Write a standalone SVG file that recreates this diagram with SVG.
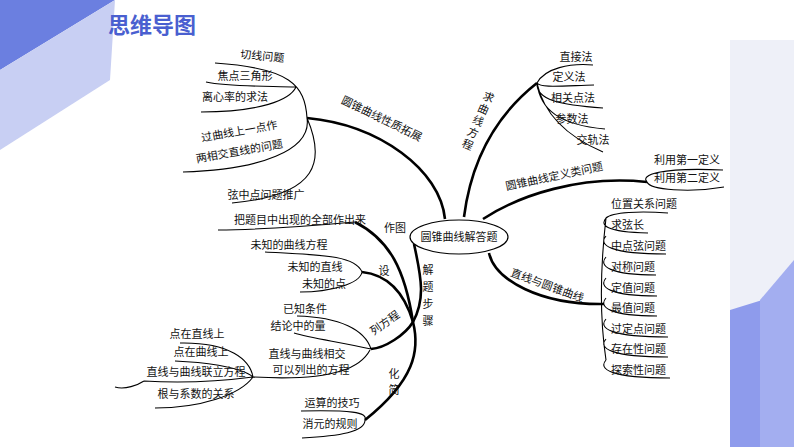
<svg xmlns="http://www.w3.org/2000/svg" width="794" height="447" viewBox="0 0 794 447">
<style>
text{font-family:"Noto Sans CJK SC","Liberation Sans",sans-serif;font-size:11px;fill:#111}
.t{text-anchor:middle}
.b{fill:none;stroke:#000;stroke-width:2.6}
.s{fill:none;stroke:#000;stroke-width:1.1}
</style>
<rect width="794" height="447" fill="#fff"/>
<rect x="730" y="40" width="64" height="407" fill="#eef0f8"/>
<polygon points="0,0 115,0 0,70" fill="#6b7fe0"/>
<polygon points="0,70 115,0 110,80 0,150" fill="#c8cff3"/>
<polygon points="730,310 794,290 794,447 700,447" fill="#8e9bec"/>
<polygon points="760,300 794,260 794,447 760,447" fill="#a3aef0"/>
<rect x="130" y="40" width="600" height="407" fill="#fff"/>
<text x="108" y="33" style="font-size:22px;font-weight:bold;fill:#4a5fd0">思维导图</text>
<g id="connectors">
<path class="b" d="M445,219 C440,170 380,125 307,118"/>
<path class="s" d="M307,118 C305,85 290,68 215,63 M296,87 C270,86 230,87 206,82 M296,87 C290,100 260,112 201,112 M307,118 C312,150 260,170 183,172 M307,118 C325,160 320,195 232,203"/>
<path class="b" d="M464,217 C470,170 490,120 537,83"/>
<path class="s" d="M537,83 C545,68 570,63 593,65 M537,83 C540,88 560,86 594,85 M537,83 C536,100 560,105 603,108 M537,83 C540,110 560,125 605,129 M537,83 C545,120 575,140 603,152"/>
<path class="b" d="M483,219 C520,195 580,175 647,182"/>
<path class="s" d="M647,182 C640,175 660,167 723,170 M647,182 C650,190 690,193 724,187"/>
<path class="b" d="M489,253 C495,280 540,305 604,304"/>
<path class="s" d="M668,213 C640,211 612,212 606,218 C600,225 605,232 648,233
M606,236 C598,245 610,254 666,254
M606,257 C598,266 610,275 656,275
M606,278 C598,287 610,296 657,296
M606,298 C598,307 610,316 657,316
M606,319 C598,328 610,337 668,337
M606,339 C598,348 610,357 668,357
M606,360 C598,369 610,378 670,378
M606,218 C600,270 600,320 606,360"/>
<path class="b" d="M414,244 C422,280 425,300 413,322"/>
<path class="b" d="M413,322 C405,270 390,240 355,222"/>
<path class="s" d="M355,222 C320,225 260,230 218,230"/>
<path class="b" d="M413,322 C405,295 390,275 362,272"/>
<path class="s" d="M362,272 C355,255 320,255 265,252 M362,272 C360,284 330,292 300,292"/>
<path class="b" d="M413,322 C405,335 385,348 371,349"/>
<path class="s" d="M371,349 C365,330 340,317 297,316 M371,349 C340,342 310,338 294,333"/>
<path class="b" d="M413,322 C420,350 415,380 365,420"/>
<path class="s" d="M365,420 C368,412 350,410 301,411 M365,420 C365,432 340,436 302,438"/>
<path class="s" d="M370,350 C362,365 340,382 253,377 M253,377 C250,360 230,342 180,343 M253,377 C240,366 200,362 175,361 M253,377 C230,380 190,384 144,381 M253,377 C240,395 200,408 155,408 M144,381 C138,385 125,390 115,387"/>
</g>
<g id="center"><ellipse cx="459" cy="237" rx="49" ry="17" fill="#fff" stroke="#000" stroke-width="1.2"/><text x="459" y="241" class="t">圆锥曲线解答题</text></g>
<g id="n1">
<text x="380" y="122" class="t" transform="rotate(26 380 122)">圆锥曲线性质拓展</text>
<text x="262" y="60" class="t" transform="rotate(5 262 60)">切线问题</text>
<text x="245" y="80" class="t">焦点三角形</text>
<text x="235" y="101" class="t">离心率的求法</text>
<text x="240" y="135" class="t" transform="rotate(-10 240 135)">过曲线上一点作</text>
<text x="240" y="155" class="t" transform="rotate(-10 240 155)">两相交直线的问题</text>
<text x="266" y="199" class="t">弦中点问题推广</text>
</g>
<g id="n2">
<text x="491" y="92" style="writing-mode:tb;letter-spacing:2px" transform="rotate(24 491 92)">求曲线方程</text>
<text x="576" y="61" class="t">直接法</text>
<text x="569" y="81" class="t">定义法</text>
<text x="573" y="102" class="t">相关点法</text>
<text x="572" y="123" class="t">参数法</text>
<text x="593" y="144" class="t">交轨法</text>
</g>
<g id="n3">
<text x="555" y="180" class="t" transform="rotate(-12 555 180)">圆锥曲线定义类问题</text>
<text x="687" y="164" class="t">利用第一定义</text>
<text x="687" y="182" class="t">利用第二定义</text>
</g>
<g id="n4">
<text x="546" y="289" class="t" transform="rotate(20 546 289)">直线与圆锥曲线</text>
<text x="611" y="208">位置关系问题</text>
<text x="611" y="229">求弦长</text>
<text x="611" y="250">中点弦问题</text>
<text x="611" y="271">对称问题</text>
<text x="611" y="292">定值问题</text>
<text x="611" y="312">最值问题</text>
<text x="611" y="333">过定点问题</text>
<text x="611" y="353">存在性问题</text>
<text x="611" y="374">探索性问题</text>
</g>
<g id="n5">
<text x="428" y="264" style="writing-mode:tb;letter-spacing:6px">解题步骤</text>
<text x="395" y="232" class="t">作图</text>
<text x="300" y="224" class="t">把题目中出现的全部作出来</text>
<text x="384" y="275" class="t">设</text>
<text x="289" y="249" class="t">未知的曲线方程</text>
<text x="315" y="271" class="t">未知的直线</text>
<text x="324" y="288" class="t">未知的点</text>
<text x="387" y="326" class="t" transform="rotate(-35 387 326)">列方程</text>
<text x="305" y="313" class="t">已知条件</text>
<text x="298" y="330" class="t">结论中的量</text>
<text x="307" y="358" class="t">直线与曲线相交</text>
<text x="311" y="374" class="t">可以列出的方程</text>
<text x="197" y="338" class="t">点在直线上</text>
<text x="201" y="356" class="t">点在曲线上</text>
<text x="196" y="376" class="t">直线与曲线联立方程</text>
<text x="196" y="398" class="t">根与系数的关系</text>
<text x="394" y="368" style="writing-mode:tb;letter-spacing:5px">化简</text>
<text x="332" y="407" class="t">运算的技巧</text>
<text x="330" y="428" class="t">消元的规则</text>
</g>
</svg>
